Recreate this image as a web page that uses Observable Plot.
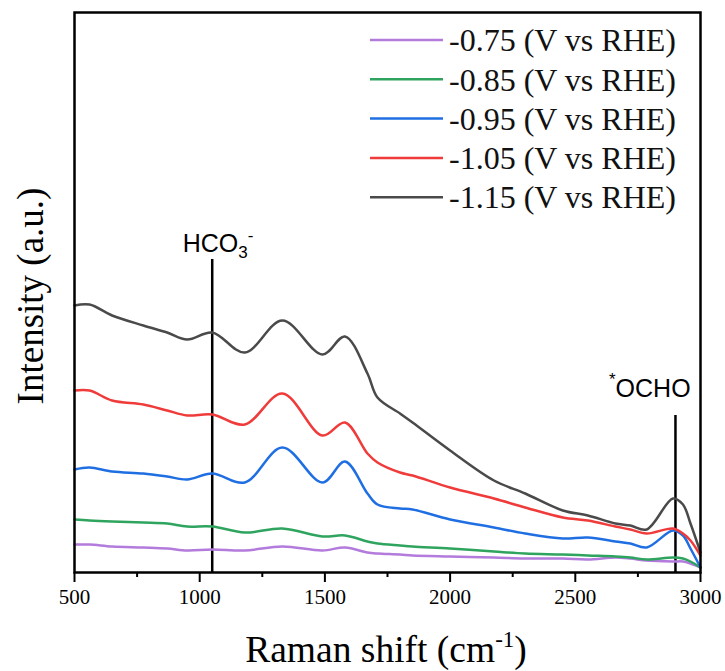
<!DOCTYPE html>
<html>
<head>
<meta charset="utf-8">
<script src="https://cdn.jsdelivr.net/npm/d3@7"></script>
<script src="https://cdn.jsdelivr.net/npm/@observablehq/plot@0.6"></script>
<style>
  html, body { margin: 0; padding: 0; background: #fff; }
  #chart { width: 725px; height: 671px; }
</style>
</head>
<body>
<div id="chart"></div>
<script>
// Raman shift sampling points (cm^-1)
const shifts = [500, 560, 650, 775, 870, 950, 1050, 1180, 1330, 1490, 1580, 1670, 1710, 1800,
                1850, 2000, 2175, 2300, 2450, 2550, 2660, 2720, 2785, 2890, 2930, 2960, 3000];

// Intensity (a.u.) for each applied potential
const series075 = [28, 28, 26, 25, 24, 22, 23, 22, 26, 22, 25, 20, 19, 18,
                   17, 16, 15, 14, 14, 13, 15, 14, 12, 11, 11, 9, 5];
const series085 = [53, 52, 51, 50, 49, 46, 46, 40, 44, 36, 37, 31, 29, 27,
                   26, 24, 21, 19, 18, 17, 16, 15, 13, 15, 14, 11, 5];
const series095 = [103, 105, 101, 99, 96, 93, 99, 90, 125, 90, 111, 79, 68, 64,
                   63, 53, 45, 39, 34, 35, 31, 29, 25, 42, 37, 24, 5];
const series105 = [182, 182, 172, 168, 162, 157, 158, 148, 179, 137, 150, 119, 110, 100,
                   97, 85, 74, 65, 55, 52, 46, 43, 39, 44, 39, 32, 17];
const series115 = [267, 268, 257, 247, 240, 233, 240, 220, 252, 218, 236, 199, 175, 159,
                   150, 122, 92, 79, 62, 57, 49, 47, 43, 74, 68, 49, 20];

const seriesNames = ["-0.75 (V vs RHE)", "-0.85 (V vs RHE)", "-0.95 (V vs RHE)", "-1.05 (V vs RHE)", "-1.15 (V vs RHE)"];
const seriesColors = ["#b27bdc", "#2fa45f", "#1f6fe2", "#f03b3b", "#4a4a4a"];
const seriesValues = [series075, series085, series095, series105, series115];

// Band markers: position and height of the vertical guide
const bandShifts = [1050, 2900];
const bandTops = [313, 157];

const majorTicks = [500, 1000, 1500, 2000, 2500, 3000];
const minorTicks = [750, 1250, 1750, 2250, 2750];

const SERIF = "'Liberation Serif', 'Times New Roman', Times, serif";
const SANS = "'Liberation Sans', Arial, Helvetica, sans-serif";

const rows = seriesNames.flatMap((name, i) =>
  shifts.map((s, j) => ({series: name, shift: s, value: seriesValues[i][j]})));
const bands = bandShifts.map((s, i) => ({shift: s, top: bandTops[i]}));

const chart = Plot.plot({
  width: 725,
  height: 671,
  marginTop: 12,
  marginRight: 25,
  marginBottom: 99,
  marginLeft: 74,
  style: {fontFamily: SERIF, fontSize: "21px", color: "#000", background: "#fff"},
  x: {domain: [500, 3000]},
  y: {domain: [0, 560], axis: null},
  color: {domain: seriesNames, range: seriesColors},
  marks: [
    Plot.ruleX(bands, {x: "shift", y1: 0, y2: "top", stroke: "#000", strokeWidth: 2.5}),
    Plot.line(rows, {x: "shift", y: "value", z: "series", stroke: "series", strokeWidth: 2.5, curve: "catmull-rom"}),
    Plot.frame({stroke: "#000", strokeWidth: 2.5}),
    Plot.axisX(majorTicks, {tickSize: 10, tickPadding: 7, strokeWidth: 2, label: null, tickFormat: d => String(d), fontFamily: SERIF}),
    Plot.axisX(minorTicks, {tickSize: 5, strokeWidth: 2, label: null, tickFormat: () => ""})
  ]
});

document.getElementById("chart").appendChild(chart);

const svg = d3.select(chart);
svg.selectAll("text").attr("font-family", SERIF);
const xs = chart.scale("x"), ys = chart.scale("y");

// Band labels
const hco3 = svg.append("text")
  .attr("x", xs.apply(1050) - 29)
  .attr("y", ys.apply(313) - 7)
  .attr("text-anchor", "start")
  .attr("font-family", SANS)
  .attr("font-size", 25)
  .attr("fill", "#000");
hco3.append("tspan").text("HCO");
hco3.append("tspan").attr("font-size", 17).attr("dy", 6).text("3");
hco3.append("tspan").attr("font-size", 17).attr("dy", -17).text("-");

const ocho = svg.append("text")
  .attr("x", xs.apply(2900) - 66)
  .attr("y", ys.apply(157) - 18)
  .attr("text-anchor", "start")
  .attr("font-family", SANS)
  .attr("font-size", 25)
  .attr("fill", "#000");
ocho.append("tspan").attr("font-size", 17).attr("dy", -12).text("*");
ocho.append("tspan").attr("dy", 12).text("OCHO");

// Axis titles
const xTitle = svg.append("text")
  .attr("x", 386)
  .attr("y", 662)
  .attr("text-anchor", "middle")
  .attr("font-family", SERIF)
  .attr("font-size", 37.5)
  .attr("fill", "#000");
xTitle.append("tspan").text("Raman shift (cm");
xTitle.append("tspan").attr("font-size", 23).attr("dy", -15).text("-1");
xTitle.append("tspan").attr("dy", 15).text(")");

svg.append("text")
  .attr("transform", "translate(43,296) rotate(-90)")
  .attr("text-anchor", "middle")
  .attr("font-family", SERIF)
  .attr("font-size", 37)
  .attr("fill", "#000")
  .text("Intensity (a.u.)");

// Legend
const legend = svg.append("g").attr("transform", "translate(370,40)");
const item = legend.selectAll("g")
  .data(seriesNames)
  .join("g")
  .attr("transform", (d, i) => `translate(0,${i * 39.3})`);
item.append("line")
  .attr("x1", 0).attr("x2", 73)
  .attr("stroke", (d, i) => seriesColors[i])
  .attr("stroke-width", 2.5);
item.append("text")
  .attr("x", 79)
  .attr("dy", "0.35em")
  .attr("text-anchor", "start")
  .attr("font-family", SERIF)
  .attr("font-size", 32)
  .attr("fill", "#111")
  .text(d => d);
</script>
</body>
</html>
